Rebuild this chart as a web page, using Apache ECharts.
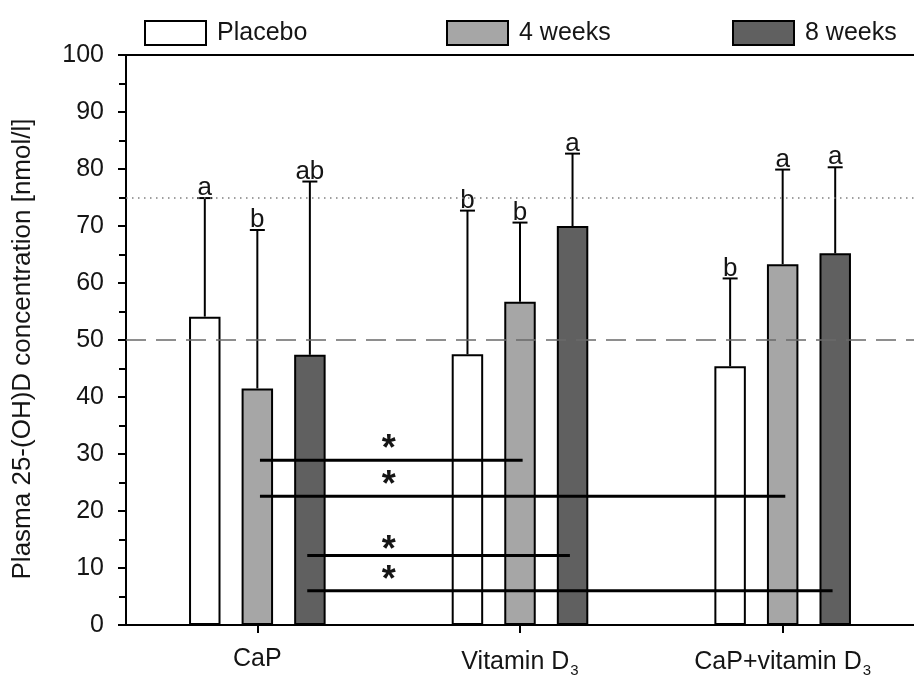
<!DOCTYPE html>
<html>
<head>
<meta charset="utf-8">
<script src="https://cdn.jsdelivr.net/npm/echarts@6/dist/echarts.min.js"></script>
<style>html,body{margin:0;padding:0;background:#fff}#c{width:914px;height:678px}</style>
</head>
<body>
<div id="c"></div>
<script>
// ---- data ----
const categories = ['CaP', 'Vitamin D3', 'CaP+vitamin D3'];
const seriesNames = ['Placebo', '4 weeks', '8 weeks'];
const placeboMean = [54.1, 47.5, 45.4];
const week4Mean = [41.5, 56.7, 63.3];
const week8Mean = [47.4, 70.0, 65.2];
const placeboUpper = [74.9, 72.7, 60.8];
const week4Upper = [69.3, 70.6, 79.9];
const week8Upper = [77.8, 82.7, 80.3];
const placeboLetters = ['a', 'b', 'b'];
const week4Letters = ['b', 'b', 'a'];
const week8Letters = ['ab', 'a', 'a'];
const yTicks = [0, 10, 20, 30, 40, 50, 60, 70, 80, 90, 100];
const refDashed = 50;
const refDotted = 75;
// significance brackets (x in category units, 0..3)
const sigFrom = [0.51, 0.51, 0.69, 0.69];
const sigTo = [1.51, 2.51, 1.69, 2.69];
const sigY = [28.9, 22.6, 12.2, 6.0];
const starX = [1.0, 1.0, 1.0, 1.0];
const starY = [32.25, 25.9, 14.6, 9.35];

const FONT = "'Liberation Sans', Arial, sans-serif";
const TXT = '#151515';
const fills = ['#ffffff', '#a6a6a6', '#606060'];
const means = [placeboMean, week4Mean, week8Mean];
const uppers = [placeboUpper, week4Upper, week8Upper];
const letters = [placeboLetters, week4Letters, week8Letters];

const chart = echarts.init(document.getElementById('c'), null, {renderer: 'canvas'});

const barSeries = seriesNames.map((name, k) => ({
  name: name,
  type: 'bar',
  xAxisIndex: 0,
  yAxisIndex: 0,
  data: means[k],
  barGap: '67%',
  barCategoryGap: '48%',
  itemStyle: {color: fills[k], borderColor: '#000', borderWidth: 2},
  z: 2,
  markLine: k === 0 ? {
    silent: true,
    symbol: 'none',
    label: {show: false},
    data: [
      {yAxis: refDashed, lineStyle: {type: [20, 10], color: '#6a6a6a', width: 1.5}},
      {yAxis: refDotted, lineStyle: {type: [1.5, 4.5], color: '#808080', width: 1.5}}
    ]
  } : undefined
}));

const errSeries = seriesNames.map((name, k) => ({
  type: 'custom',
  xAxisIndex: 0,
  yAxisIndex: 0,
  z: 3,
  silent: true,
  data: categories.map((c, i) => [i, means[k][i], uppers[k][i]]),
  encode: {x: 0, y: [1, 2]},
  renderItem: function (params, api) {
    const i = params.dataIndex;
    const b = api.coord([api.value(0), api.value(1)]);
    const t = api.coord([api.value(0), api.value(2)]);
    const bw = api.size([1, 0])[0];
    const x = b[0] + (k - 1) * 0.2 * bw;
    return {
      type: 'group',
      children: [
        {type: 'line', shape: {x1: x, y1: b[1], x2: x, y2: t[1]}, style: {stroke: '#000', lineWidth: 2}},
        {type: 'line', shape: {x1: x - 7.5, y1: t[1], x2: x + 7.5, y2: t[1]}, style: {stroke: '#000', lineWidth: 2}},
        {type: 'text', x: x, y: t[1] + 3, style: {text: letters[k][i], fontSize: 26, fontFamily: FONT, fill: TXT, align: 'center', verticalAlign: 'bottom'}}
      ]
    };
  }
}));

const sigSeries = {
  type: 'custom',
  xAxisIndex: 1,
  yAxisIndex: 0,
  z: 4,
  silent: true,
  data: sigY.map((y, i) => [sigFrom[i], sigTo[i], y, starX[i], starY[i]]),
  encode: {x: [0, 1, 3], y: [2, 4]},
  renderItem: function (params, api) {
    const a = api.coord([api.value(0), api.value(2)]);
    const b = api.coord([api.value(1), api.value(2)]);
    const s = api.coord([api.value(3), api.value(4)]);
    return {
      type: 'group',
      children: [
        {type: 'line', shape: {x1: a[0], y1: a[1], x2: b[0], y2: b[1]}, style: {stroke: '#000', lineWidth: 3}},
        {type: 'text', x: s[0], y: s[1] + 9, style: {text: '*', fontSize: 36, fontWeight: 'bold', fontFamily: FONT, fill: TXT, align: 'center', verticalAlign: 'middle'}}
      ]
    };
  }
};

const legendLeft = [139, 441, 727];

const option = {
  animation: false,
  backgroundColor: '#fff',
  textStyle: {fontFamily: FONT},
  legend: seriesNames.map((n, i) => ({
    data: [n],
    left: legendLeft[i],
    top: 15,
    itemWidth: 61,
    itemHeight: 24,
    icon: 'rect',
    selectedMode: false,
    textStyle: {fontSize: 25, fontFamily: FONT, color: TXT, padding: [0, 0, 0, 6]}
  })),
  grid: {left: 126, right: -2.5, top: 55, bottom: 53},
  xAxis: [
    {
      type: 'category',
      data: categories,
      position: 'bottom',
      axisLine: {show: true, lineStyle: {color: '#000', width: 2}},
      axisTick: {show: true, alignWithLabel: true, length: 8, lineStyle: {color: '#000', width: 2}},
      axisLabel: {
        interval: 0,
        hideOverlap: false,
        fontSize: 25, fontFamily: FONT, color: TXT, margin: 22,
        formatter: v => v.replace(/D3$/, 'D{sub|3}'),
        rich: {
          sub: {fontSize: 15, fontFamily: FONT, color: TXT, padding: [16, 0, 0, 1], verticalAlign: 'top'}
        }
      },
      splitLine: {show: false}
    },
    {
      type: 'value',
      min: 0,
      max: 3,
      position: 'top',
      axisLine: {show: true, onZero: false, lineStyle: {color: '#000', width: 2}},
      axisTick: {show: false},
      axisLabel: {show: false},
      splitLine: {show: false}
    }
  ],
  yAxis: {
    type: 'value',
    min: yTicks[0],
    max: yTicks[yTicks.length - 1],
    interval: yTicks[1] - yTicks[0],
    name: 'Plasma 25-(OH)D concentration [nmol/l]',
    nameLocation: 'middle',
    nameGap: 90,
    nameTextStyle: {fontSize: 26, fontFamily: FONT, color: TXT, padding: [0, 18, 0, 0]},
    axisLine: {show: true, lineStyle: {color: '#000', width: 2}},
    axisTick: {show: true, length: 8, lineStyle: {color: '#000', width: 2}},
    minorTick: {show: true, splitNumber: 2, length: 7, lineStyle: {color: '#000', width: 2}},
    axisLabel: {fontSize: 25, fontFamily: FONT, color: TXT, margin: 22},
    splitLine: {show: false}
  },
  series: [...barSeries, ...errSeries, sigSeries]
};
chart.setOption(option);
</script>
</body>
</html>
